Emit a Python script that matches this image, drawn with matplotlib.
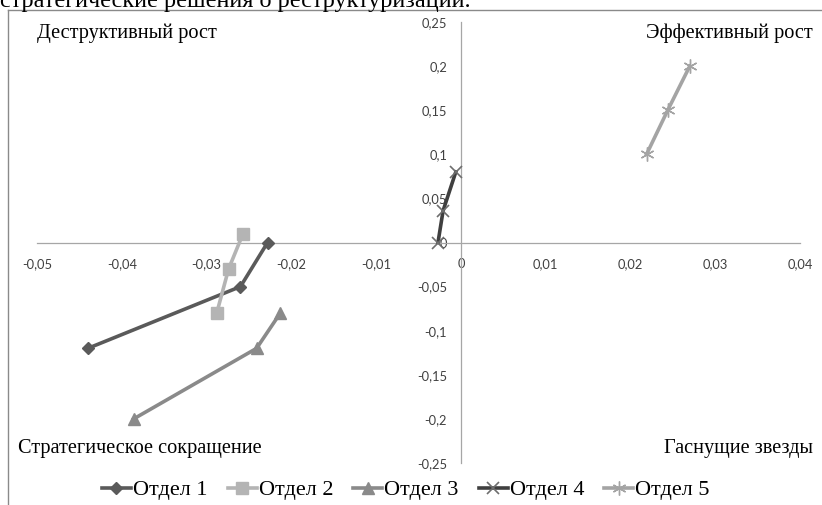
import numpy as np
import matplotlib
matplotlib.use("Agg")
import matplotlib.pyplot as plt
from matplotlib.ticker import FuncFormatter
from matplotlib.lines import Line2D

W, H = 822, 505

## DATOS
otdel_names = ["Отдел 1", "Отдел 2", "Отдел 3", "Отдел 4", "Отдел 5"]
x_otdel1 = [-0.044, -0.026, -0.0228]
y_otdel1 = [-0.12, -0.05, 0.0]
x_otdel2 = [-0.0288, -0.0274, -0.0257]
y_otdel2 = [-0.08, -0.03, 0.01]
x_otdel3 = [-0.0386, -0.0241, -0.0213]
y_otdel3 = [-0.2, -0.12, -0.08]
x_otdel4 = [-0.0027, -0.0021, -0.0006]
y_otdel4 = [0.0, 0.036, 0.08]
x_otdel5 = [0.0219, 0.0244, 0.027]
y_otdel5 = [0.1, 0.15, 0.2]

x_ticks = [-0.05, -0.04, -0.03, -0.02, -0.01, 0, 0.01, 0.02, 0.03, 0.04]
y_ticks = [-0.25, -0.2, -0.15, -0.1, -0.05, 0, 0.05, 0.1, 0.15, 0.2, 0.25]

quadrants = ["Деструктивный рост", "Эффективный рост",
             "Стратегическое сокращение", "Гаснущие звезды"]
caption = "стратегические решения о реструктуризации."

serif = "Liberation Serif"

def px(x, y):
    return x / W, 1 - y / H

def comma(v, pos):
    return "{:g}".format(round(v, 4)).replace(".", ",")

fig = plt.figure(figsize=(W / 100, H / 100), dpi=100)
ax = fig.add_axes([37 / W, 1 - 463 / H, 763 / W, 441 / H])

styles = [
    dict(color="#5a5a5a", marker="D", ms=6.5),
    dict(color="#b4b4b4", marker="s", ms=8),
    dict(color="#8a8a8a", marker="^", ms=9),
    dict(color="#3f3f3f", marker="x", ms=9, mew=1.2, mec="#6e6e6e"),
    dict(color="#a4a4a4", marker=(6, 2, 0), ms=10, mew=1.0),
]
data = [(x_otdel1, y_otdel1), (x_otdel2, y_otdel2), (x_otdel3, y_otdel3),
        (x_otdel4, y_otdel4), (x_otdel5, y_otdel5)]

for name, (xx, yy), st in zip(otdel_names, data, styles):
    ax.plot(xx, yy, lw=2.6, label=name, zorder=3, **st)

ax.set_xlim(-0.05, 0.04)
ax.set_ylim(-0.25, 0.25)
ax.set_xticks(x_ticks)
ax.set_yticks(y_ticks)
ax.xaxis.set_major_formatter(FuncFormatter(comma))
ax.yaxis.set_major_formatter(FuncFormatter(comma))

for s in ["top", "right"]:
    ax.spines[s].set_visible(False)
ax.spines["left"].set_position(("data", 0))
ax.spines["bottom"].set_position(("data", 0))
for s in ["left", "bottom"]:
    ax.spines[s].set_color("#a6a6a6")
    ax.spines[s].set_linewidth(0.9)
ax.tick_params(length=0, labelsize=9.3, labelcolor="#404040")
ax.tick_params(axis="x", pad=11)
ax.tick_params(axis="y", pad=10)
for lab in ax.get_xticklabels() + ax.get_yticklabels():
    lab.set_family("Lato")
ax.patch.set_alpha(0)

# marco y texto cortado arriba
fig.add_artist(Line2D([8 / W, 1], [1 - 10 / H, 1 - 10 / H], color="#8a8a8a", lw=1))
fig.add_artist(Line2D([8 / W, 8 / W], [0, 1 - 10 / H], color="#8a8a8a", lw=1))
fig.text(*px(0, 7), caption, family=serif, fontsize=17.5, va="baseline", ha="left")

fig.text(*px(37, 33), quadrants[0], family=serif, fontsize=14.6, va="center", ha="left")
fig.text(*px(813, 33), quadrants[1], family=serif, fontsize=14.6, va="center", ha="right")
fig.text(*px(18, 449), quadrants[2], family=serif, fontsize=14.6, va="center", ha="left")
fig.text(*px(813, 449), quadrants[3], family=serif, fontsize=14.6, va="center", ha="right")

fig.legend(loc="center", bbox_to_anchor=px(406, 490), ncol=5, frameon=False,
           prop={"family": serif, "size": 16}, handlelength=1.3,
           handletextpad=0.1, columnspacing=0.9, borderaxespad=0)

fig.savefig("out.png", dpi=100)
